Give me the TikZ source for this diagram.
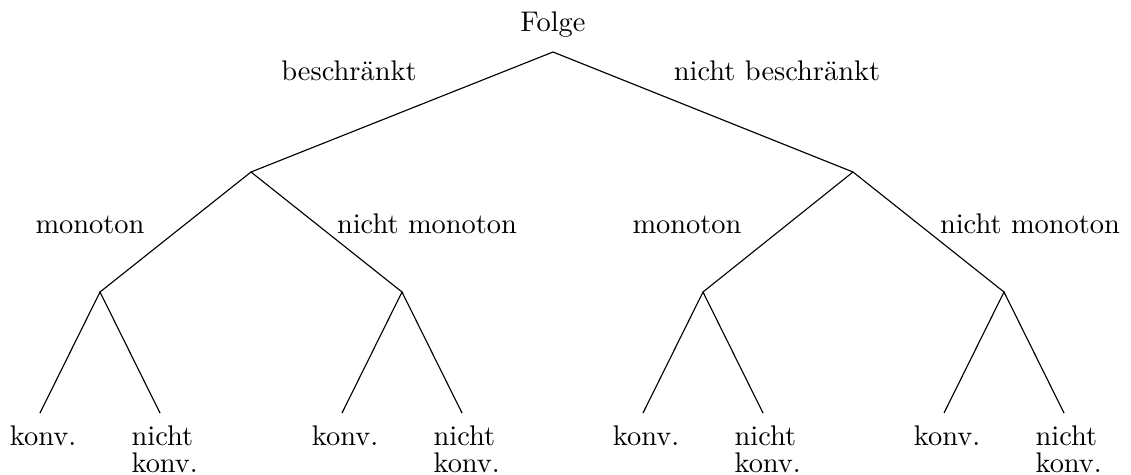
\documentclass[tikz,border=0pt]{standalone}
\usepackage{fontspec}
\begin{document}
\begin{tikzpicture}[x=0.352pt, y=-0.352pt,
  lbl/.style={inner sep=0pt, anchor=base, font=\fontsize{10}{12}\selectfont},
  leafl/.style={inner sep=0pt, anchor=base west, font=\fontsize{10}{12}\selectfont},
  branch/.style={line width=0.4pt}]
\path[use as bounding box] (0,0) rectangle (1131,474);

% branch points
\coordinate (r)   at (553,52);
\coordinate (b)   at (251,172);
\coordinate (nb)  at (853,172);
\coordinate (bm)  at (100,292);
\coordinate (bn)  at (402,292);
\coordinate (nbm) at (703,292);
\coordinate (nbn) at (1004,292);
% leaf ends
\foreach \p/\x in {bm/100, bn/402, nbm/703, nbn/1004}{
  \coordinate (\p-k) at (\x-60,413);
  \coordinate (\p-n) at (\x+60,413);
}

% edges
\draw[branch] (b) -- (r) -- (nb);
\draw[branch] (bm) -- (b) -- (bn);
\draw[branch] (nbm) -- (nb) -- (nbn);
\foreach \p in {bm, bn, nbm, nbn}{
  \draw[branch] (\p-k) -- (\p) -- (\p-n);
}

% labels
\node[lbl] (folge) at (553,31) {Folge};
\node[lbl] (lb)  at (349,80) {beschränkt};
\node[lbl] (lnb) at (777,80) {nicht beschränkt};
\node[lbl] (lbm)  at (90,233)   {monoton};
\node[lbl] (lbn)  at (427,233)  {nicht monoton};
\node[lbl] (lnbm) at (687,233)  {monoton};
\node[lbl] (lnbn) at (1030,233) {nicht monoton};

% leaves
\foreach \p/\x in {bm/100, bn/402, nbm/703, nbn/1004}{
  \node[lbl] (\p-kt) at (\x-57,445) {konv.};
  \node[leafl] (\p-nt1) at (\x+31,445) {nicht};
  \node[leafl] (\p-nt2) at (\x+31,472) {konv.};
}
\end{tikzpicture}
\end{document}
